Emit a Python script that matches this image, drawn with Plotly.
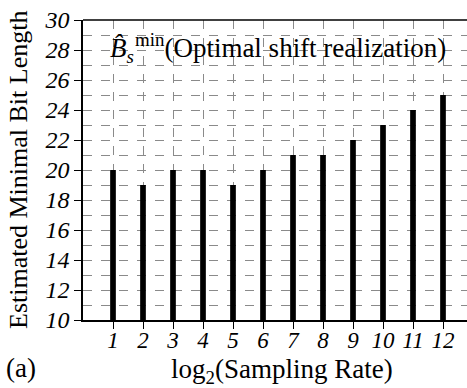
import plotly.graph_objects as go

rates = [1, 2, 3, 4, 5, 6, 7, 8, 9, 10, 11, 12]
bit_lengths = [20, 19, 20, 20, 19, 20, 21, 21, 22, 23, 24, 25]
y_ticks = [10, 12, 14, 16, 18, 20, 22, 24, 26, 28, 30]

FONT = "'Liberation Serif', 'Times New Roman', serif"
GRID = "#8a8a8a"

fig = go.Figure()
fig.add_trace(go.Bar(x=rates, y=bit_lengths, width=0.19,
                     marker=dict(color="black", line=dict(width=0)),
                     base=0))

fig.update_layout(
    width=467, height=388,
    margin=dict(l=83, r=0, t=20, b=68),
    paper_bgcolor="white", plot_bgcolor="white",
    showlegend=False,
    font=dict(family=FONT, color="black", size=22),
    xaxis=dict(range=[0, 12.8], tickvals=rates, ticktext=[str(r) for r in rates],
               tickfont=dict(family=FONT, size=23, style="italic"),
               showline=True, linecolor="black", linewidth=1.5,
               ticks="outside", ticklen=7, tickcolor="black",
               ticklabelstandoff=-8,
               showgrid=True, gridcolor=GRID, griddash="dash", gridwidth=1,
               zeroline=False),
    yaxis=dict(range=[10, 30], tickvals=y_ticks,
               tickfont=dict(family=FONT, size=24, style="italic"),
               showline=True, linecolor="black", linewidth=1.5,
               ticks="outside", ticklen=7, tickcolor="black",
               showgrid=True, gridcolor=GRID, griddash="dash", gridwidth=1,
               minor=dict(dtick=1, tick0=10, showgrid=True, gridcolor=GRID, griddash="dash", gridwidth=1, ticks=""),
               zeroline=False),
)

fig.add_shape(type="line", xref="paper", yref="paper", x0=0, x1=1, y0=1, y1=1,
              line=dict(color="black", width=1.5))

# axis titles as annotations for precise placement
fig.add_annotation(xref="paper", yref="paper", x=(282 - 83) / 384, y=-(371 - 320) / 300,
                   xanchor="center", yanchor="middle", showarrow=False,
                   text="log<sub>2</sub>(Sampling Rate)", font=dict(family=FONT, size=27))
fig.add_annotation(xref="paper", yref="paper", x=(18 - 83) / 384, y=0.5,
                   xanchor="center", yanchor="middle", showarrow=False, textangle=-90,
                   text="Estimated Minimal Bit Length", font=dict(family=FONT, size=26))

fig.add_annotation(xref="x", yref="y", x=1.75, y=28.0, xanchor="right", yanchor="middle",
                   text="<i>B\u0302</i><sub><i>s</i></sub>", showarrow=False,
                   font=dict(family=FONT, size=27), bgcolor="rgba(0,0,0,0)")
fig.add_annotation(xref="x", yref="y", x=1.65, y=28.3, xanchor="left", yanchor="middle",
                   text="<sup>min</sup>(Optimal shift realization)", showarrow=False,
                   font=dict(family=FONT, size=27))

fig.add_annotation(xref="paper", yref="paper", x=-79/384, y=-(368 - 320) / 300, xanchor="left", yanchor="middle",
                   text="(a)", showarrow=False, font=dict(family=FONT, size=27))

fig.write_html("out.html")
